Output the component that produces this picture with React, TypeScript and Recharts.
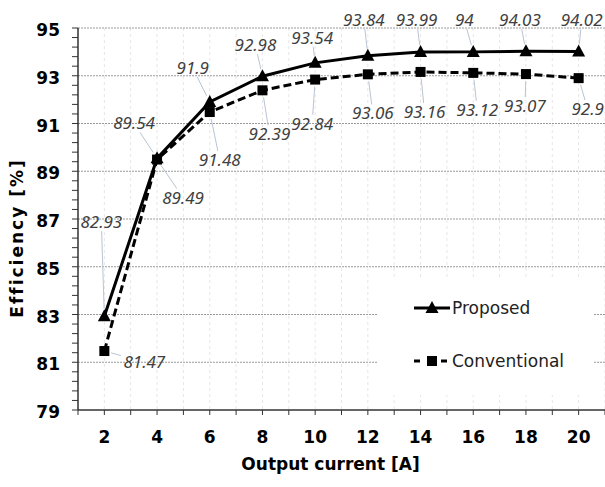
import React from "react";
import {
  LineChart,
  Line,
  XAxis,
  YAxis,
  CartesianGrid,
  ReferenceLine,
  Legend,
  LabelList,
} from "recharts";

const currents = [2, 4, 6, 8, 10, 12, 14, 16, 18, 20];
const proposed = [82.93, 89.54, 91.9, 92.98, 93.54, 93.84, 93.99, 94, 94.03, 94.02];
const conventional = [81.47, 89.49, 91.48, 92.39, 92.84, 93.06, 93.16, 93.12, 93.07, 92.9];

const xTicks = [1, 2, 3, 4, 5, 6, 7, 8, 9, 10, 11, 12, 13, 14, 15, 16, 17, 18, 19, 20, 21];
const xTickLabels = [2, 4, 6, 8, 10, 12, 14, 16, 18, 20];
const yMajorTicks = [79, 81, 83, 85, 87, 89, 91, 93, 95];
const yMinorStep = 0.4;

// where each value label sits, in px from its point
const proposedLabelOffsets = [
  [-3, -94], [-23, -35], [-17, -34], [-7, -31], [-3, -25],
  [-4, -36], [-4, -32], [-9, -32], [-6, -31], [3, -31],
];
const conventionalLabelOffsets = [
  [40, 11], [26, 38], [10, 48], [7, 44], [-3, 44],
  [5, 39], [4, 40], [4, 37], [-1, 32], [9, 31],
];

const data = currents.map((c, i) => ({
  current: c,
  proposed: proposed[i],
  conventional: conventional[i],
}));

const yTicks: number[] = [];
for (let v = yMajorTicks[0]; v <= yMajorTicks[yMajorTicks.length - 1] + 1e-6; v += yMinorStep) {
  yTicks.push(Math.round(v * 10) / 10);
}

const TICK_FONT = "'DejaVu Sans', sans-serif";

const YTick = (props: any) => {
  const { x, y, payload } = props;
  const isMajor = yMajorTicks.some((m) => Math.abs(m - payload.value) < 1e-6);
  if (!isMajor) return <g />;
  return (
    <text x={x} y={y} dy={8} textAnchor="end" fontFamily={TICK_FONT} fontWeight="bold" fontSize={17} fill="#000">
      {payload.value}
    </text>
  );
};

const XTick = (props: any) => {
  const { x, y, payload } = props;
  if (!xTickLabels.includes(payload.value)) return <g />;
  return (
    <text x={x} y={y} dy={13} textAnchor="middle" fontFamily={TICK_FONT} fontWeight="bold" fontSize={17} fill="#000">
      {payload.value}
    </text>
  );
};

const TriangleDot = (props: any) => {
  const { cx, cy, index } = props;
  if (cx == null || cy == null) return <g key={index} />;
  return <path key={index} d={`M${cx},${cy - 7} L${cx + 6.5},${cy + 5} L${cx - 6.5},${cy + 5} Z`} fill="#000" />;
};

const SquareDot = (props: any) => {
  const { cx, cy, index } = props;
  if (cx == null || cy == null) return <g key={index} />;
  return <rect key={index} x={cx - 5} y={cy - 5} width={10} height={10} fill="#000" />;
};

const makeValueLabel = (offsets: number[][]) => (props: any) => {
  const { x, y, value, index } = props;
  if (x == null || y == null) return null;
  const [dx, dy] = offsets[index];
  const lx = x + dx;
  const ly = y + dy;
  const text = String(value);
  const hw = (text.length * 8.6) / 2 + 2;
  const hh = 9;
  const s = Math.min(1, Math.abs(dx) > 0 ? hw / Math.abs(dx) : 1, Math.abs(dy) > 0 ? hh / Math.abs(dy) : 1);
  const len = Math.hypot(dx, dy);
  const sx = x + (dx / len) * 7;
  const sy = y + (dy / len) * 7;
  const ex = lx - dx * s;
  const ey = ly - dy * s;
  return (
    <g>
      <line x1={sx} y1={sy} x2={ex} y2={ey} stroke="#b9c4d3" strokeWidth={1} />
      <text
        x={lx}
        y={ly}
        dy={6}
        textAnchor="middle"
        fontFamily="'Noto Sans', sans-serif"
        fontStyle="italic"
        fontSize={17}
        fill="#404040"
      >
        {text}
      </text>
    </g>
  );
};

const LegendBox = () => (
  <div
    style={{
      background: "#fff",
      width: 216,
      height: 115,
      position: "relative",
      fontFamily: "'DejaVu Sans', sans-serif",
      fontSize: 17,
      color: "#222",
    }}
  >
    <svg width={36} height={16} style={{ position: "absolute", left: 37, top: 20 }}>
      <line x1={0} y1={8} x2={36} y2={8} stroke="#000" strokeWidth={3} />
      <path d="M18,1 L24.5,13 L11.5,13 Z" fill="#000" />
    </svg>
    <div style={{ position: "absolute", left: 75, top: 16, lineHeight: "24px" }}>Proposed</div>
    <svg width={36} height={16} style={{ position: "absolute", left: 37, top: 73 }}>
      <line x1={0} y1={8} x2={6} y2={8} stroke="#000" strokeWidth={3} />
      <rect x={13} y={3} width={10} height={10} fill="#000" />
      <line x1={27} y1={8} x2={33} y2={8} stroke="#000" strokeWidth={3} />
    </svg>
    <div style={{ position: "absolute", left: 75, top: 69, lineHeight: "24px" }}>Conventional</div>
  </div>
);

export default function App() {
  return (
    <div style={{ position: "absolute", left: 0, top: 0, background: "#fff" }}>
      <LineChart
        width={605}
        height={487}
        data={data}
        margin={{ top: 28, right: 0, left: 0, bottom: 0 }}
      >
        <CartesianGrid horizontal={false} stroke="#e6e6e6" strokeDasharray="3 3" />
        {yMajorTicks.slice(1).map((v) => (
          <ReferenceLine key={v} y={v} stroke="#9a9a9a" strokeDasharray="2 1" />
        ))}
        <XAxis
          dataKey="current"
          type="number"
          domain={[1, 21]}
          ticks={xTicks}
          interval={0}
          height={77}
          tickSize={5}
          tickMargin={15}
          tick={<XTick />}
          axisLine={{ stroke: "#333", strokeWidth: 1.5 }}
          tickLine={{ stroke: "#333" }}
          label={{
            content: (p: any) => {
              const vb = p.viewBox;
              return (
                <text
                  x={vb.x + vb.width / 2 - 11}
                  y={vb.y + 60}
                  textAnchor="middle"
                  fontFamily={TICK_FONT}
                  fontWeight="bold"
                  fontSize={17}
                  fill="#000"
                >
                  Output current [A]
                </text>
              );
            },
          }}
        />
        <YAxis
          type="number"
          domain={[79, 95]}
          ticks={yTicks}
          interval={0}
          width={78}
          tickSize={6}
          tickMargin={12}
          tick={<YTick />}
          axisLine={{ stroke: "#333", strokeWidth: 1.5 }}
          tickLine={{ stroke: "#333" }}
          label={{
            content: (p: any) => {
              const vb = p.viewBox;
              const cx = 23;
              const cy = vb.y + vb.height / 2 + 19;
              return (
                <text
                  x={cx}
                  y={cy}
                  transform={`rotate(-90, ${cx}, ${cy})`}
                  textAnchor="middle"
                  fontFamily={TICK_FONT}
                  fontWeight="bold"
                  fontSize={17}
                  letterSpacing={2}
                  fill="#000"
                >
                  Efficiency [%]
                </text>
              );
            },
          }}
        />
        <Legend
          layout="horizontal"
          verticalAlign="middle"
          align="center"
          content={<LegendBox />}
          wrapperStyle={{ left: 377, top: 280, width: 216, height: 115 }}
        />
        <Line
          dataKey="proposed"
          type="linear"
          stroke="#000"
          strokeWidth={3}
          dot={TriangleDot}
          activeDot={false}
          isAnimationActive={false}
        >
          <LabelList dataKey="proposed" content={makeValueLabel(proposedLabelOffsets)} />
        </Line>
        <Line
          dataKey="conventional"
          type="linear"
          stroke="#000"
          strokeWidth={3}
          strokeDasharray="8 4"
          dot={SquareDot}
          activeDot={false}
          isAnimationActive={false}
        >
          <LabelList dataKey="conventional" content={makeValueLabel(conventionalLabelOffsets)} />
        </Line>
      </LineChart>
    </div>
  );
}
